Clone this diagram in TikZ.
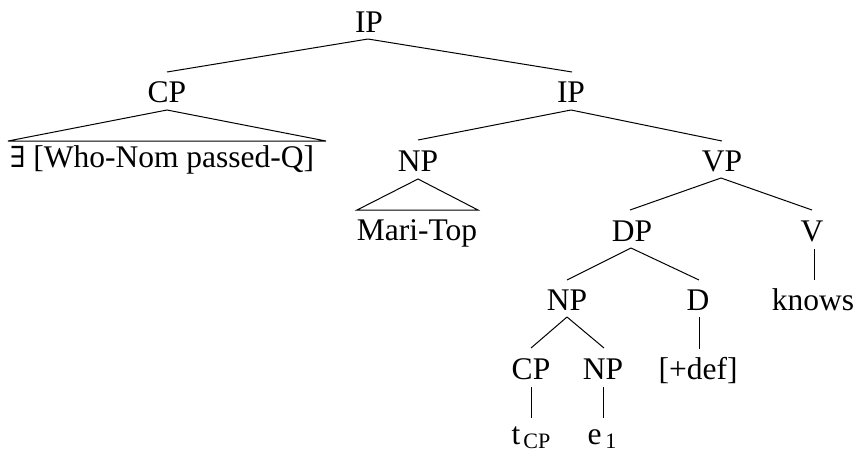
\documentclass[tikz,border=0pt]{standalone}
\usepackage{fontspec}
\setmainfont{Liberation Serif}
\newfontfamily\symfont{DejaVu Serif}
\begin{document}
\begin{tikzpicture}[x=1pt,y=-1pt,
  lab/.style={anchor=base,inner sep=0pt,font=\fontsize{31.5}{36}\selectfont},
  br/.style={line width=1pt}]
\useasboundingbox (0,0) rectangle (856,453);
% labels
\node[lab] (ip0) at (369,32) {IP};
\node[lab] (cp1) at (167,102) {CP};
\node[lab] (ip1) at (571,102) {IP};
\node[lab] (cpt) at (162,167) {{\symfont\fontsize{29}{34}\selectfont ∃} [Who-Nom passed-Q]};
\node[lab] (np1) at (418,171) {NP};
\node[lab] (vp1) at (722,171) {VP};
\node[lab] (mari) at (417,240) {Mari-Top};
\node[lab] (dp1) at (632,241) {DP};
\node[lab] (v1) at (812,241) {V};
\node[lab] (np2) at (567,310) {NP};
\node[lab] (d1) at (698,310) {D};
\node[lab] (knows) at (813,310) {knows};
\node[lab] (cp2) at (531,379) {CP};
\node[lab] (np3) at (603,379) {NP};
\node[lab] (def) at (698,379) {[+def]};
\node[lab] (tcp) at (531,444) {t\kern3pt\raisebox{-4pt}{\fontsize{22}{22}\selectfont CP}};
\node[lab] (e1) at (602,444) {e\kern4pt\raisebox{-4pt}{\fontsize{22}{22}\selectfont 1}};
% coordinates: branch ends
\coordinate (ip0b) at (368,39);
\coordinate (cp1t) at (167,72);
\coordinate (ip1t) at (572,72);
\coordinate (cp1b) at (167,110);
\coordinate (cpl) at (8,141);
\coordinate (cpr) at (326,141);
\coordinate (ip1b) at (571,110);
\coordinate (np1t) at (418,140);
\coordinate (vp1t) at (722,141);
\coordinate (np1b) at (418,179);
\coordinate (npl) at (357,210);
\coordinate (npr) at (478,210);
\coordinate (vp1b) at (721,178);
\coordinate (dp1t) at (630,210);
\coordinate (v1t) at (812,210);
\coordinate (dp1b) at (631,248);
\coordinate (np2t) at (567,280);
\coordinate (d1t) at (699,280);
\coordinate (v1b) at (814,249);
\coordinate (knowst) at (814,280);
\coordinate (np2b) at (567,317);
\coordinate (cp2t) at (531,348);
\coordinate (np3t) at (604,348);
\coordinate (d1b) at (699,317);
\coordinate (deft) at (699,349);
\coordinate (cp2b) at (531,387);
\coordinate (tcpt) at (531,418);
\coordinate (np3b) at (603,387);
\coordinate (e1t) at (603,418);
% branches
\draw[br] (ip0b) -- (cp1t);
\draw[br] (ip0b) -- (ip1t);
\draw[br] (cp1b) -- (cpl) -- (cpr) -- cycle;
\draw[br] (ip1b) -- (np1t);
\draw[br] (ip1b) -- (vp1t);
\draw[br] (np1b) -- (npl) -- (npr) -- cycle;
\draw[br] (vp1b) -- (dp1t);
\draw[br] (vp1b) -- (v1t);
\draw[br] (dp1b) -- (np2t);
\draw[br] (dp1b) -- (d1t);
\draw[br] (v1b) -- (knowst);
\draw[br] (d1b) -- (deft);
\draw[br] (np2b) -- (cp2t);
\draw[br] (np2b) -- (np3t);
\draw[br] (cp2b) -- (tcpt);
\draw[br] (np3b) -- (e1t);
\end{tikzpicture}
\end{document}
